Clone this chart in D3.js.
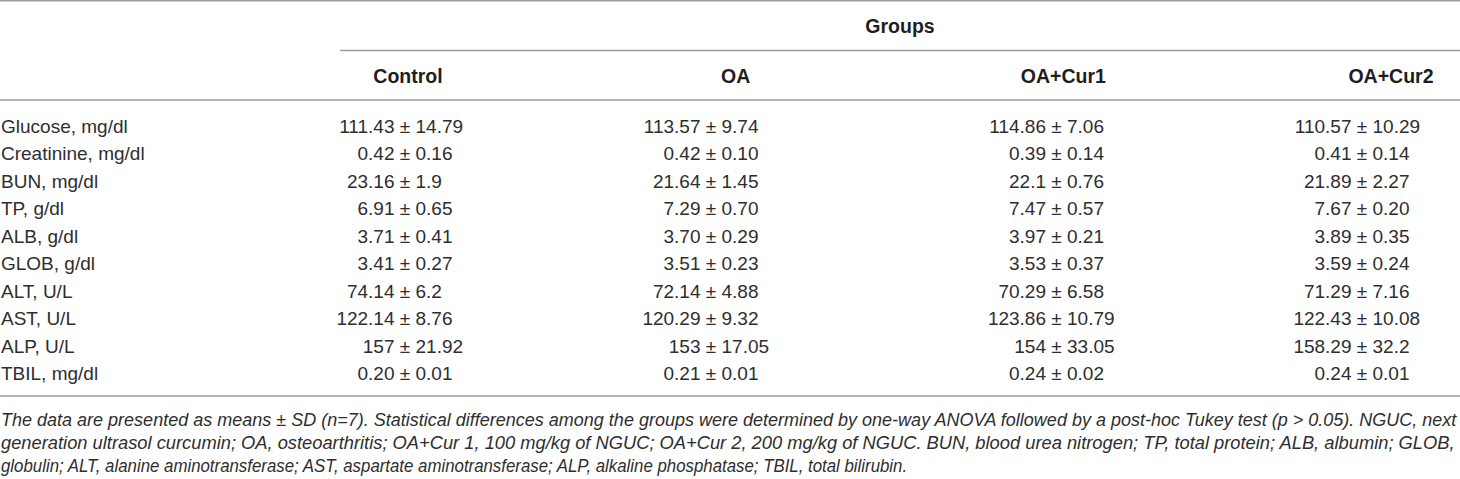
<!DOCTYPE html>
<html>
<head>
<meta charset="utf-8">
<script src="https://cdn.jsdelivr.net/npm/d3@7"></script>
<style>
  body { margin: 0; background: #fff; }
  svg text { font-family: "Liberation Sans", Arial, sans-serif; }
</style>
</head>
<body>
<div id="chart"></div>
<script>
// table content
var groups = ["Control", "OA", "OA+Cur1", "OA+Cur2"];
var params = ["Glucose, mg/dl", "Creatinine, mg/dl", "BUN, mg/dl", "TP, g/dl", "ALB, g/dl",
              "GLOB, g/dl", "ALT, U/L", "AST, U/L", "ALP, U/L", "TBIL, mg/dl"];

var controlMean = ["111.43", "0.42", "23.16", "6.91", "3.71", "3.41", "74.14", "122.14", "157", "0.20"];
var controlSd   = ["14.79", "0.16", "1.9", "0.65", "0.41", "0.27", "6.2", "8.76", "21.92", "0.01"];
var oaMean      = ["113.57", "0.42", "21.64", "7.29", "3.70", "3.51", "72.14", "120.29", "153", "0.21"];
var oaSd        = ["9.74", "0.10", "1.45", "0.70", "0.29", "0.23", "4.88", "9.32", "17.05", "0.01"];
var cur1Mean    = ["114.86", "0.39", "22.1", "7.47", "3.97", "3.53", "70.29", "123.86", "154", "0.24"];
var cur1Sd      = ["7.06", "0.14", "0.76", "0.57", "0.21", "0.37", "6.58", "10.79", "33.05", "0.02"];
var cur2Mean    = ["110.57", "0.41", "21.89", "7.67", "3.89", "3.59", "71.29", "122.43", "158.29", "0.24"];
var cur2Sd      = ["10.29", "0.14", "2.27", "0.20", "0.35", "0.24", "7.16", "10.08", "32.2", "0.01"];

var footnote = [
  "The data are presented as means \u00b1 SD (n=7). Statistical differences among the groups were determined by one-way ANOVA followed by a post-hoc Tukey test (p > 0.05). NGUC, next",
  "generation ultrasol curcumin; OA, osteoarthritis; OA+Cur 1, 100 mg/kg of NGUC; OA+Cur 2, 200 mg/kg of NGUC. BUN, blood urea nitrogen; TP, total protein; ALB, albumin; GLOB,",
  "globulin; ALT, alanine aminotransferase; AST, aspartate aminotransferase; ALP, alkaline phosphatase; TBIL, total bilirubin."
];

var means = [controlMean, oaMean, cur1Mean, cur2Mean];
var sds = [controlSd, oaSd, cur1Sd, cur2Sd];

var width = 1460, height = 479;

var svg = d3.select("#chart")
            .append("svg")
                .attr("width", width)
                .attr("height", height);

// header centres and the column where the "±" sits
var xHead = d3.scalePoint().domain(groups).range([408, 1391]);
var xPm = d3.scaleOrdinal().domain(groups).range([405, 711, 1056.5, 1362]);

// row baselines
var y = d3.scalePoint().domain(params).range([133, 380]);

var rule = "#9b9b9b";
var ink = "#2e2e2e";

// horizontal rules
var rules = [
    {x1: 0, x2: width, y: 0.8},
    {x1: 340, x2: width, y: 50.5},
    {x1: 0, x2: width, y: 100},
    {x1: 0, x2: width, y: 396}
];
svg.selectAll("line.rule")
   .data(rules)
   .enter().append("line")
       .attr("class", "rule")
       .attr("x1", d => d.x1).attr("x2", d => d.x2)
       .attr("y1", d => d.y).attr("y2", d => d.y)
       .style("stroke", rule)
       .style("stroke-width", 1.6);

// spanning header
svg.append("text")
   .attr("x", 900).attr("y", 33)
   .attr("text-anchor", "middle")
   .style("font-size", "19.5px").style("font-weight", "bold").style("fill", "#1e1e1e")
   .text("Groups");

svg.selectAll("text.head")
   .data(groups)
   .enter().append("text")
       .attr("class", "head")
       .attr("x", d => xHead(d)).attr("y", 83)
       .attr("text-anchor", "middle")
       .style("font-size", "19.5px").style("font-weight", "bold").style("fill", "#1e1e1e")
       .text(d => d);

// row labels
svg.selectAll("text.param")
   .data(params)
   .enter().append("text")
       .attr("class", "param")
       .attr("x", 1).attr("y", d => y(d))
       .style("font-size", "19px").style("fill", ink)
       .text(d => d);

// cells: mean ends before the ±, sd starts after it
var cells = [];
groups.forEach(function(g, gi) {
    params.forEach(function(p, pi) {
        cells.push({group: g, param: p, mean: means[gi][pi], sd: sds[gi][pi]});
    });
});

var cell = svg.selectAll("g.cell")
   .data(cells)
   .enter().append("g")
       .attr("class", "cell")
       .attr("transform", d => "translate(" + xPm(d.group) + "," + y(d.param) + ")")
       .style("font-size", "19px").style("fill", ink);

cell.append("text").attr("x", -10.5).attr("text-anchor", "end").text(d => d.mean);
cell.append("text").attr("x", 0).attr("text-anchor", "middle").text("\u00b1");
cell.append("text").attr("x", 10.5).attr("text-anchor", "start").text(d => d.sd);

// footnote: the source face is condensed, so squeeze each line to its width
var noteWidths = [1456, 1455, 907];
var noteY = d3.scalePoint().domain(d3.range(footnote.length)).range([426, 472]);

svg.selectAll("text.note")
   .data(footnote)
   .enter().append("text")
       .attr("class", "note")
       .style("font-size", "18.5px").style("font-style", "italic").style("fill", ink)
       .text(d => d)
       .attr("transform", function(d, i) {
           var k = noteWidths[i] / this.getComputedTextLength();
           return "translate(1," + noteY(i) + ") scale(" + k + ",1)";
       });
</script>
</body>
</html>
